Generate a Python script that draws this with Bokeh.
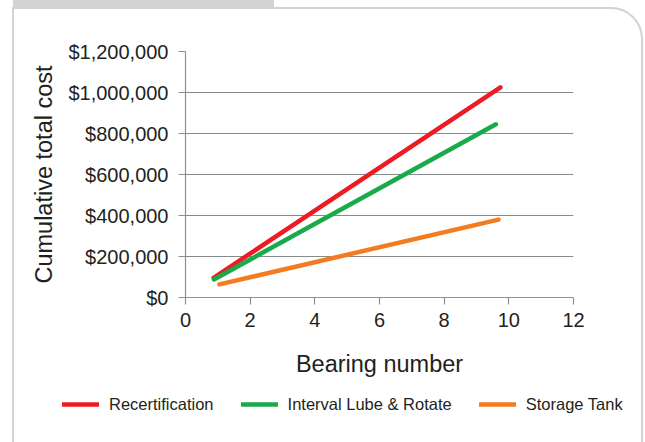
from bokeh.plotting import figure
from bokeh.models import (FixedTicker, NumeralTickFormatter, Legend, LegendItem,
                          InlineStyleSheet)
from bokeh.embed import file_html
from bokeh.resources import INLINE

# ---- data ----
series_names = ["Recertification", "Interval Lube & Rotate", "Storage Tank"]
recert_x = [0.87, 9.74]
recert_y = [96000, 1025000]
lube_x = [0.88, 9.60]
lube_y = [88000, 845000]
tank_x = [1.05, 9.68]
tank_y = [64000, 380000]
x_ticks = [0, 2, 4, 6, 8, 10, 12]
y_ticks = [0, 200000, 400000, 600000, 800000, 1000000, 1200000]

colors = ["#ED1C24", "#1BAA4A", "#F47B20"]
FONT = "Liberation Sans"
TXT = "#231f20"

fig = figure(width=645, height=442, output_backend="svg", toolbar_location=None,
             x_range=(0, 12), y_range=(0, 1200000),
             min_border_left=185, min_border_right=72,
             min_border_top=51, min_border_bottom=145)
fig.frame_width = 388
fig.frame_height = 246
fig.styles = {"position": "absolute", "left": "0px", "top": "0px"}
css = """
:host::before { content: ""; position: absolute; left: 13px; top: 0px;
  width: 261px; height: 9px; background: #d1d3d4; z-index: 5; pointer-events: none; }
:host::after { content: ""; position: absolute; left: 12px; top: 7px;
  width: 631px; height: 470px; box-sizing: border-box;
  border: 2.5px solid #d1d3d4; border-top-right-radius: 32px;
  z-index: 4; pointer-events: none; }
"""
fig.stylesheets = [InlineStyleSheet(css=css)]
fig.outline_line_color = None
fig.background_fill_color = "white"
fig.border_fill_color = "white"

line_style = dict(line_width=4.5, line_cap="round")
fig.line(recert_x, recert_y, line_color=colors[0], **line_style)
fig.line(lube_x, lube_y, line_color=colors[1], **line_style)
fig.line(tank_x, tank_y, line_color=colors[2], **line_style)

# axes
fig.xaxis.ticker = FixedTicker(ticks=x_ticks)
fig.yaxis.ticker = FixedTicker(ticks=y_ticks)
fig.yaxis.formatter = NumeralTickFormatter(format="$0,0")
for ax in (fig.xaxis, fig.yaxis):
    ax.axis_line_color = "#8f8f8f"
    ax.axis_line_width = 1.2
    ax.major_tick_line_color = "#8f8f8f"
    ax.major_tick_line_width = 1.2
    ax.major_tick_in = 0
    ax.major_tick_out = 7
    ax.minor_tick_line_color = None
    ax.major_label_text_font = FONT
    ax.major_label_text_font_size = "20px"
    ax.major_label_text_color = TXT
    ax.axis_label_text_font = FONT
    ax.axis_label_text_font_size = "23.5px"
    ax.axis_label_text_font_style = "normal"
    ax.axis_label_text_color = TXT
fig.yaxis.major_label_standoff = 10
fig.xaxis.major_label_standoff = 8
fig.xaxis.axis_label = "Bearing number"
fig.yaxis.axis_label = "Cumulative total cost"
fig.xaxis.axis_label_standoff = 21
fig.yaxis.axis_label_standoff = 8

fig.xgrid.grid_line_color = None
fig.ygrid.grid_line_color = "#8a8a8a"
fig.ygrid.grid_line_width = 1.2

# legend strip (separate transparent figure so the legend is not clipped);
# its lines hold the same series but lie outside this strip's ranges,
# so only their legend samples show
leg = figure(width=645, height=30, output_backend="svg", toolbar_location=None,
             x_range=(0, 1), y_range=(0, 1), x_axis_type=None, y_axis_type=None,
             min_border_left=0, min_border_right=0, min_border_top=0, min_border_bottom=0)
leg.styles = {"position": "absolute", "left": "0px", "top": "389px"}
leg.outline_line_color = None
leg.background_fill_alpha = 0
leg.border_fill_alpha = 0
k1 = leg.line(recert_x, recert_y, line_color=colors[0], **line_style)
k2 = leg.line(lube_x, lube_y, line_color=colors[1], **line_style)
k3 = leg.line(tank_x, tank_y, line_color=colors[2], **line_style)
legend = Legend(items=[LegendItem(label=series_names[0], renderers=[k1]),
                       LegendItem(label=series_names[1], renderers=[k2]),
                       LegendItem(label=series_names[2], renderers=[k3])],
                orientation="horizontal", location=(62, 5),
                glyph_width=37, glyph_height=20, label_height=20,
                label_standoff=10, spacing=27, padding=0, margin=0,
                border_line_color=None, background_fill_alpha=0,
                label_text_font=FONT, label_text_font_size="16.5px",
                label_text_color=TXT)
leg.add_layout(legend, "center")

p = [fig, leg]
open("out.html", "w").write(file_html(p, INLINE))
